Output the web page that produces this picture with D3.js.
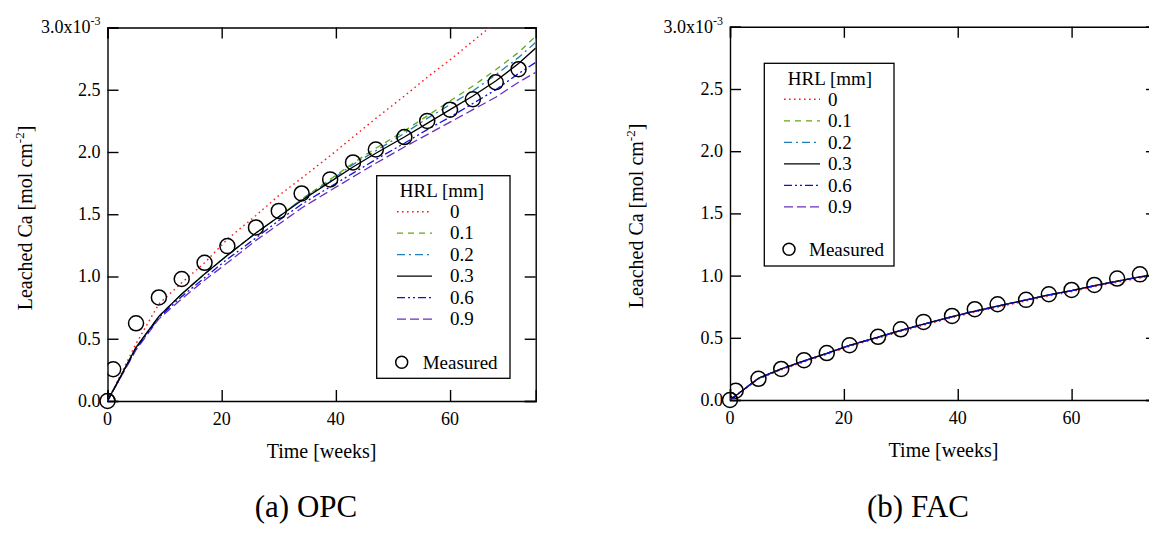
<!DOCTYPE html>
<html>
<head>
<meta charset="utf-8">
<script src="https://cdn.jsdelivr.net/npm/d3@7/dist/d3.min.js"></script>
<style>
  html, body { margin: 0; padding: 0; background: #fff; }
  svg { display: block; }
</style>
</head>
<body>
<svg id="fig" width="1149" height="535"></svg>
<script>
// Model output times (weeks) and measured sampling times (weeks)
const modelWeeks = [0, 5, 9, 13, 17, 21, 26, 30, 34, 39, 43, 47, 52, 56, 60, 64, 68, 72, 75];
const measWeeks  = [0, 1, 5, 9, 13, 17, 21, 26, 30, 34, 39, 43, 47, 52, 56, 60, 64, 68, 72];

// HRL thickness labels (mm)
const hrlLabels = ["0", "0.1", "0.2", "0.3", "0.6", "0.9"];

// OPC: leached Ca (x10^-3 mol cm^-2) for each HRL
const opcHrl0  = [0, 0.46, 0.78, 0.95, 1.11, 1.30, 1.49, 1.65, 1.79, 1.97, 2.12, 2.27, 2.45, 2.60, 2.74, 2.89, 3.04, 3.19, 3.30];
const opcHrl01 = [0, 0.43, 0.68, 0.86, 1.02, 1.17, 1.35, 1.48, 1.62, 1.78, 1.91, 2.03, 2.17, 2.29, 2.41, 2.53, 2.66, 2.80, 2.93];
const opcHrl02 = [0, 0.43, 0.68, 0.86, 1.02, 1.17, 1.35, 1.48, 1.62, 1.77, 1.90, 2.01, 2.15, 2.27, 2.38, 2.49, 2.62, 2.76, 2.88];
const opcHrl03 = [0, 0.43, 0.68, 0.86, 1.02, 1.17, 1.35, 1.48, 1.61, 1.76, 1.88, 1.99, 2.12, 2.23, 2.34, 2.45, 2.57, 2.71, 2.835];
const opcHrl06 = [0, 0.42, 0.67, 0.84, 0.99, 1.14, 1.31, 1.45, 1.58, 1.72, 1.83, 1.94, 2.07, 2.18, 2.28, 2.39, 2.50, 2.63, 2.72];
const opcHrl09 = [0, 0.41, 0.66, 0.82, 0.97, 1.11, 1.29, 1.42, 1.55, 1.69, 1.80, 1.91, 2.04, 2.14, 2.24, 2.34, 2.44, 2.56, 2.64];
const opcMeasured = [0, 0.255, 0.624, 0.832, 0.98, 1.11, 1.244, 1.394, 1.527, 1.667, 1.78, 1.916, 2.02, 2.12, 2.25, 2.34, 2.424, 2.56, 2.665];

// FAC: leached Ca (x10^-3 mol cm^-2) for each HRL
const facHrl0  = [0, 0.168, 0.242, 0.306, 0.366, 0.431, 0.496, 0.551, 0.601, 0.661, 0.706, 0.746, 0.796, 0.836, 0.871, 0.911, 0.946, 0.981, 1.001];
const facHrl01 = [0, 0.175, 0.250, 0.315, 0.375, 0.440, 0.505, 0.560, 0.610, 0.670, 0.715, 0.755, 0.805, 0.845, 0.880, 0.920, 0.955, 0.990, 1.010];
const facHrl02 = [0, 0.175, 0.250, 0.315, 0.375, 0.440, 0.505, 0.560, 0.610, 0.670, 0.715, 0.755, 0.805, 0.845, 0.880, 0.920, 0.955, 0.990, 1.010];
const facHrl03 = [0, 0.175, 0.250, 0.315, 0.375, 0.440, 0.505, 0.560, 0.610, 0.670, 0.715, 0.755, 0.805, 0.845, 0.880, 0.920, 0.955, 0.990, 1.010];
const facHrl06 = [0, 0.175, 0.250, 0.315, 0.375, 0.440, 0.505, 0.560, 0.610, 0.670, 0.715, 0.755, 0.805, 0.845, 0.880, 0.920, 0.955, 0.990, 1.010];
const facHrl09 = [0, 0.173, 0.248, 0.313, 0.373, 0.438, 0.503, 0.558, 0.608, 0.668, 0.713, 0.753, 0.803, 0.843, 0.878, 0.918, 0.953, 0.988, 1.008];
const facMeasured = [0, 0.075, 0.17, 0.25, 0.32, 0.377, 0.44, 0.508, 0.568, 0.628, 0.676, 0.73, 0.77, 0.805, 0.85, 0.885, 0.925, 0.976, 1.01];

// Axis ticks
const xTicks = [0, 20, 40, 60];
const yTicks = [0, 0.5, 1.0, 1.5, 2.0, 2.5, 3.0];

// Line appearance per HRL
const lineStyles = [
  { color: "#ff1a1a", dash: "1.6,3.4", width: 1.4 },
  { color: "#5fa818", dash: "6,5",      width: 1.3 },
  { color: "#1f7fb4", dash: "8,4,2,4",  width: 1.3 },
  { color: "#000000", dash: null,       width: 1.3 },
  { color: "#1010dd", dash: "8,3,2,3,2,3", width: 1.3 },
  { color: "#6a2fbf", dash: "9,4",      width: 1.3 }
];

const SERIF = "'Liberation Serif', 'Times New Roman', serif";
const svg = d3.select("#fig");

function label(sel, size) {
  return sel.attr("font-family", SERIF).attr("font-size", size).attr("fill", "#000");
}

function drawPanel(cfg) {
  const x = d3.scaleLinear().domain([0, 75]).range([cfg.left, cfg.right]);
  const y = d3.scaleLinear().domain([0, 3.0]).range([cfg.bottom, cfg.top]);
  const g = svg.append("g");

  const clipId = "clip-" + cfg.id;
  g.append("clipPath").attr("id", clipId)
    .append("rect")
    .attr("x", cfg.left).attr("y", cfg.top)
    .attr("width", cfg.right - cfg.left).attr("height", cfg.bottom - cfg.top);

  // Axes (ticks pointing inward on all four sides)
  const tickLen = 11;
  const bottomAxis = d3.axisTop(x).tickValues(xTicks).tickSize(tickLen).tickFormat("");
  const topAxis = d3.axisBottom(x).tickValues(xTicks).tickSize(tickLen).tickFormat("");
  const leftAxis = d3.axisRight(y).tickValues(yTicks).tickSize(tickLen).tickFormat("");
  const rightAxis = d3.axisLeft(y).tickValues(yTicks).tickSize(tickLen).tickFormat("");

  [[bottomAxis, `translate(0,${cfg.bottom})`],
   [topAxis, `translate(0,${cfg.top})`],
   [leftAxis, `translate(${cfg.left},0)`],
   [rightAxis, `translate(${cfg.right},0)`]].forEach(([ax, tr]) => {
    const a = g.append("g").attr("transform", tr).call(ax);
    a.select(".domain").attr("stroke", "#000").attr("stroke-width", 1.4);
    a.selectAll(".tick line").attr("stroke", "#000").attr("stroke-width", 1.4);
  });

  // X tick labels
  label(g.selectAll(".xlab").data(xTicks).enter().append("text"), 18)
    .attr("x", d => x(d)).attr("y", cfg.bottom + 24)
    .attr("text-anchor", "middle")
    .text(d => d);

  // Y tick labels
  yTicks.forEach(v => {
    const t = label(g.append("text"), 18)
      .attr("x", cfg.left - 7).attr("y", y(v)).attr("dy", "0.33em")
      .attr("text-anchor", "end");
    if (v === 3.0) {
      t.append("tspan").text("3.0x10");
      t.append("tspan").attr("dy", "-8").attr("font-size", 12).text("-3");
    } else {
      t.text(d3.format(".1f")(v));
    }
  });

  // Axis titles
  label(g.append("text"), 20)
    .attr("x", (cfg.left + cfg.right0) / 2).attr("y", cfg.bottom + 57)
    .attr("text-anchor", "middle")
    .text("Time [weeks]");

  const yt = label(g.append("text"), 20)
    .attr("transform", `translate(${cfg.yTitleX},${cfg.yTitleY}) rotate(-90)`)
    .attr("text-anchor", "middle");
  yt.append("tspan").text("Leached Ca [mol cm");
  yt.append("tspan").attr("dy", "-8").attr("font-size", 13).text("-2");
  yt.append("tspan").attr("dy", "8").text("]");

  // Model curves
  const line = d3.line().x((d, i) => x(modelWeeks[i])).y(d => y(d));
  const plotG = g.append("g").attr("clip-path", `url(#${clipId})`);
  cfg.order.forEach(k => {
    const s = lineStyles[k];
    plotG.append("path")
      .datum(cfg.series[k])
      .attr("d", line)
      .attr("fill", "none")
      .attr("stroke", s.color)
      .attr("stroke-width", s.width)
      .attr("stroke-dasharray", s.dash);
  });

  // Measured points
  plotG.selectAll(".meas").data(cfg.measured).enter().append("circle")
    .attr("cx", (d, i) => x(measWeeks[i])).attr("cy", d => y(d))
    .attr("r", 7.5).attr("fill", "none")
    .attr("stroke", "#000").attr("stroke-width", 1.5);
  // the origin point sits on the axis corner and is drawn unclipped
  g.append("circle")
    .attr("cx", x(measWeeks[0])).attr("cy", y(cfg.measured[0]))
    .attr("r", 7.5).attr("fill", "none")
    .attr("stroke", "#000").attr("stroke-width", 1.5);

  // Legend
  const L = cfg.legend;
  g.append("rect")
    .attr("x", L.x0).attr("y", L.y0)
    .attr("width", L.x1 - L.x0).attr("height", L.y1 - L.y0)
    .attr("fill", "#fff").attr("stroke", "#000").attr("stroke-width", 1.3);
  label(g.append("text"), 19)
    .attr("x", L.titleX).attr("y", L.titleY)
    .attr("text-anchor", "middle")
    .text("HRL [mm]");
  hrlLabels.forEach((lab, i) => {
    const s = lineStyles[i];
    const yy = L.rowY + i * L.rowStep;
    g.append("line")
      .attr("x1", L.lineX0).attr("x2", L.lineX1)
      .attr("y1", yy).attr("y2", yy)
      .attr("stroke", s.color).attr("stroke-width", s.width)
      .attr("stroke-dasharray", s.dash);
    label(g.append("text"), 19)
      .attr("x", L.labelX).attr("y", yy).attr("dy", "0.33em")
      .text(lab);
  });
  g.append("circle")
    .attr("cx", L.markX).attr("cy", L.markY).attr("r", 6)
    .attr("fill", "none").attr("stroke", "#000").attr("stroke-width", 1.5);
  label(g.append("text"), 19)
    .attr("x", L.markLabelX).attr("y", L.markY).attr("dy", "0.33em")
    .text("Measured");

  // Caption
  label(g.append("text"), 31)
    .attr("x", cfg.captionX).attr("y", 517)
    .attr("text-anchor", "middle")
    .text(cfg.caption);
}

drawPanel({
  id: "opc", left: 107.5, right: 535.7, right0: 535.7, top: 27.5, bottom: 401,
  yTitleX: 32, yTitleY: 218,
  series: [opcHrl0, opcHrl01, opcHrl02, opcHrl03, opcHrl06, opcHrl09],
  order: [0, 1, 2, 5, 4, 3],
  measured: opcMeasured,
  caption: "(a) OPC", captionX: 306,
  legend: { x0: 376.7, x1: 510, y0: 175.7, y1: 378.3, titleX: 442, titleY: 197,
            rowY: 211.7, rowStep: 21.5, lineX0: 397, lineX1: 432, labelX: 450,
            markX: 401.7, markY: 362.3, markLabelX: 422.7 }
});

drawPanel({
  id: "fac", left: 730, right: 1157, right0: 1157, top: 26.8, bottom: 400,
  yTitleX: 643, yTitleY: 216,
  series: [facHrl0, facHrl01, facHrl02, facHrl03, facHrl06, facHrl09],
  order: [0, 1, 2, 5, 3, 4],
  measured: facMeasured,
  caption: "(b) FAC", captionX: 918,
  legend: { x0: 764.3, x1: 894, y0: 63.3, y1: 266, titleX: 830, titleY: 85,
            rowY: 99.3, rowStep: 21.5, lineX0: 784, lineX1: 820, labelX: 828,
            markX: 789, markY: 249.3, markLabelX: 809 }
});
</script>
</body>
</html>
